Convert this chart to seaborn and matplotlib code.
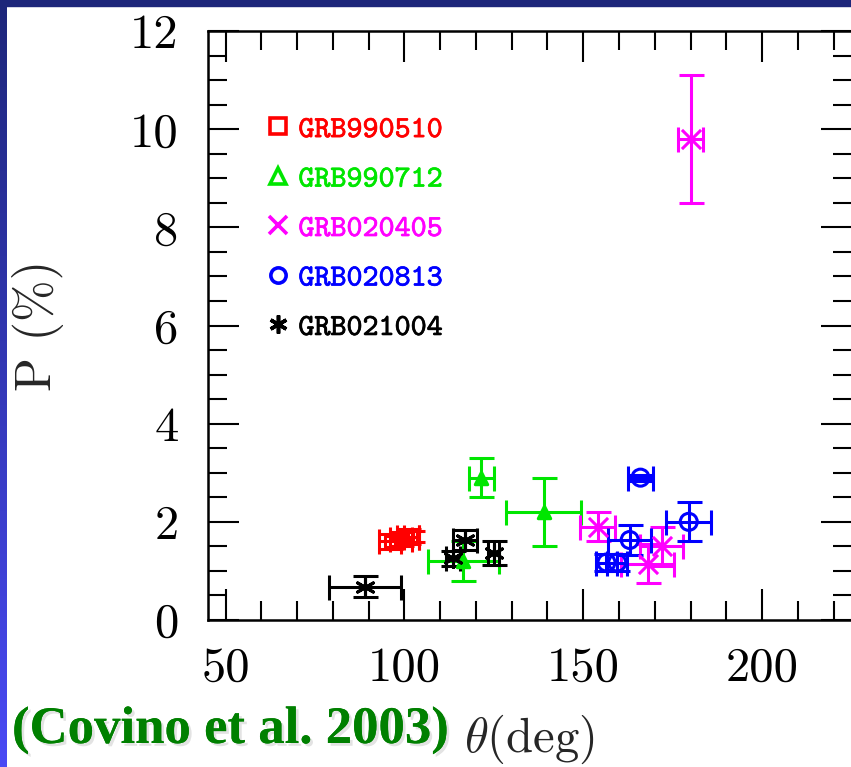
import numpy as np
import pandas as pd
import matplotlib
matplotlib.use("Agg")
import matplotlib.pyplot as plt
import seaborn as sns
from matplotlib.lines import Line2D
from matplotlib.patches import Rectangle
from matplotlib.ticker import MultipleLocator
import matplotlib.patheffects as pe

# ---------------- data ----------------
grb_names = ["GRB990510", "GRB990712", "GRB020405", "GRB020813", "GRB021004"]
grb_colors = ["#ff0000", "#00e600", "#ff00ff", "#0000ff", "#000000"]

theta_990510 = [96.0, 99.0, 101.0, 102.0]
theta_err_990510 = [3.0, 3.0, 3.0, 2.0]
p_990510 = [1.60, 1.65, 1.70, 1.70]
p_err_990510 = [0.15, 0.15, 0.15, 0.12]

theta_990712 = [121.5, 139.0, 116.5]
theta_err_990712 = [3.5, 10.5, 10.0]
p_990712 = [2.9, 2.2, 1.2]
p_err_990712 = [0.4, 0.7, 0.4]

theta_020405 = [180.0, 154.0, 172.0, 168.0]
theta_err_020405 = [3.6, 5.0, 6.0, 7.5]
p_020405 = [9.8, 1.9, 1.5, 1.15]
p_err_020405 = [1.3, 0.3, 0.4, 0.4]

theta_020813 = [166.0, 179.5, 163.0, 156.5, 159.5]
theta_err_020813 = [3.5, 6.3, 6.0, 2.8, 2.8]
p_020813 = [2.9, 2.0, 1.63, 1.17, 1.17]
p_err_020813 = [0.06, 0.4, 0.3, 0.18, 0.18]

theta_021004 = [89.0, 117.0, 113.5, 125.0]
theta_err_021004 = [10.0, 3.3, 2.0, 1.5]
p_021004 = [0.68, 1.63, 1.26, 1.36]
p_err_021004 = [0.22, 0.2, 0.15, 0.24]

x_ticks = [50, 100, 150, 200]
y_ticks = [0, 2, 4, 6, 8, 10, 12]

series = [
    (theta_990510, theta_err_990510, p_990510, p_err_990510),
    (theta_990712, theta_err_990712, p_990712, p_err_990712),
    (theta_020405, theta_err_020405, p_020405, p_err_020405),
    (theta_020813, theta_err_020813, p_020813, p_err_020813),
    (theta_021004, theta_err_021004, p_021004, p_err_021004),
]
frames = []
for name, (t, te, p, pe_) in zip(grb_names, series):
    frames.append(pd.DataFrame({"grb": name, "theta": t, "theta_err": te,
                                "P": p, "P_err": pe_}))
df = pd.concat(frames, ignore_index=True)

# ---------------- style ----------------
sns.set_theme(style="ticks")
plt.rcParams["font.family"] = ["cmr10", "DejaVu Serif"]
plt.rcParams["mathtext.fontset"] = "cm"
plt.rcParams["axes.formatter.use_mathtext"] = True

W, H = 851, 767
fig = plt.figure(figsize=(W / 100, H / 100), dpi=100)
fig.patch.set_facecolor("white")

# decorative slide frame
band = fig.add_axes([0, 0, 7 / W, 1])
grad = np.linspace(0, 1, 256)[:, None]
c_top = np.array([0x1d, 0x26, 0x7a]) / 255
c_bot = np.array([0x4a, 0x4a, 0xf5]) / 255
img = (c_top[None, None, :] * (1 - grad[..., None]) + c_bot[None, None, :] * grad[..., None])
band.imshow(img, aspect="auto", extent=[0, 1, 0, 1])
band.axis("off")
fig.add_artist(Rectangle((0, 1 - 6 / H), 1, 6 / H, transform=fig.transFigure,
                         color="#1d267a", zorder=0))

ax = fig.add_axes([207.7 / W, (H - 620) / H, (W - 207.7 + 0.5) / W, 589 / H])
ax.set_facecolor("white")

marker_spec = {
    "GRB990510": dict(marker="s", s=55, open=True),
    "GRB990712": dict(marker="^", s=80, open=False),
    "GRB020405": dict(marker="x", s=190, open=False),
    "GRB020813": dict(marker="o", s=150, open=True),
    "GRB021004": dict(marker=(6, 2, 0), s=170, open=False),
}

for name, col in zip(grb_names, grb_colors):
    sub = df[df["grb"] == name]
    ax.errorbar(sub["theta"], sub["P"], xerr=sub["theta_err"], yerr=sub["P_err"],
                fmt="none", ecolor=col, elinewidth=2.2, capsize=9, capthick=2.2,
                zorder=3)
    spec = marker_spec[name]
    sns.scatterplot(data=sub, x="theta", y="P", marker=spec["marker"], s=spec["s"],
                    color=col, linewidth=2.2, ax=ax, zorder=4, legend=False)
    coll = ax.collections[-1]
    if spec["open"]:
        coll.set_facecolor("none")
    coll.set_edgecolor(col)

ax.set_xlim(45, 225)
ax.set_ylim(0, 12)
ax.xaxis.set_major_locator(MultipleLocator(50))
ax.xaxis.set_minor_locator(MultipleLocator(10))
ax.yaxis.set_major_locator(MultipleLocator(2))
ax.yaxis.set_minor_locator(MultipleLocator(0.5))
ax.set_xticks(x_ticks)
ax.set_yticks(y_ticks)
ax.set_xticklabels([str(v) for v in x_ticks])
ax.set_yticklabels([str(v) for v in y_ticks])
ax.tick_params(which="both", direction="in", top=True, right=True, width=1.5,
               colors="black", labelsize=35)
ax.tick_params(which="major", length=22, pad=21)
ax.tick_params(which="minor", length=13.5)
ax.tick_params(axis="x", which="major", pad=19)
for sp in ax.spines.values():
    sp.set_linewidth(1.8)
    sp.set_color("black")

ax.set_xlabel(r"$\theta$(deg)", fontsize=35)
ax.xaxis.set_label_coords(0.5, -0.203)
ax.xaxis.label.set_verticalalignment("center")
ax.set_ylabel("P (%)", fontsize=36)
ax.yaxis.set_label_coords(-0.264, 0.5)
ax.yaxis.label.set_verticalalignment("center")

handles = []
for name, col in zip(grb_names, grb_colors):
    spec = marker_spec[name]
    filled = spec["marker"] in ("x", (6, 2, 0))
    handles.append(Line2D([], [], linestyle="none", marker=spec["marker"],
                          markersize=13 if filled else 11, markeredgewidth=2.6,
                          color=col, markerfacecolor=col if filled else "none",
                          markeredgecolor=col))
leg = ax.legend(handles, grb_names, loc="upper left",
                bbox_to_anchor=(0.072, 0.877), frameon=False,
                prop={"family": "cmtt10", "size": 22},
                labelcolor=grb_colors, handlelength=0.8, handletextpad=0.25,
                labelspacing=0.69, borderaxespad=0)
for txt, col in zip(leg.get_texts(), grb_colors):
    txt.set_path_effects([pe.withStroke(linewidth=0.5, foreground=col)])

fig.text(12 / W, 1 - 743 / H, "(Covino et al. 2003)", color="#008000",
         fontsize=38, fontweight="bold", family="Liberation Serif",
         va="baseline", ha="left",
         path_effects=[pe.withSimplePatchShadow(offset=(2, -2), shadow_rgbFace="gray",
                                                alpha=0.22), pe.Normal()])

fig.savefig("out.png", dpi=100)
